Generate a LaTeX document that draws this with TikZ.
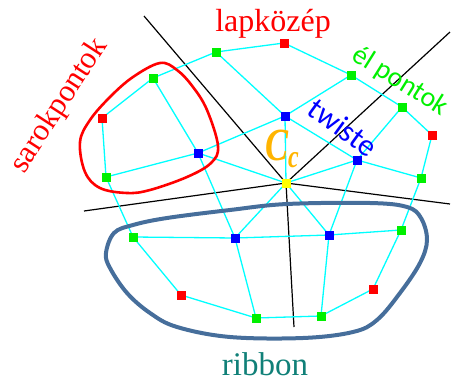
\documentclass[tikz,border=0pt]{standalone}
\usepackage{fontspec}
\setmainfont{Liberation Serif}
\newfontfamily\carlito{Carlito}
\definecolor{myorange}{RGB}{255,180,0}
\definecolor{myteal}{RGB}{16,128,120}
\definecolor{ribboncol}{RGB}{70,110,155}
\definecolor{mygreen}{RGB}{0,240,0}
\definecolor{mycyan}{RGB}{0,255,255}
\definecolor{myyellow}{RGB}{255,255,0}
\definecolor{myred}{RGB}{255,0,0}
\definecolor{myblue}{RGB}{0,0,255}
\pgfdeclarelayer{bg}
\pgfsetlayers{bg,main}
\begin{document}
\begin{tikzpicture}[x=1pt,y=-1pt,
  sq/.style={rectangle, minimum size=9pt, inner sep=0pt},
  cornerpt/.style={sq, fill=myred},
  edgept/.style={sq, fill=mygreen},
  twistpt/.style={sq, fill=myblue},
  centerpt/.style={sq, fill=myyellow},
  mesh/.style={mycyan, line width=1.3pt},
  sector/.style={black, line width=1.2pt},
  lbl/.style={inner sep=0pt, anchor=base}]
\useasboundingbox (0,0) rectangle (451,383);
% points
\node[cornerpt] (R1) at (102,118) {};
\node[cornerpt] (R2) at (284,43) {};
\node[cornerpt] (R3) at (432,135) {};
\node[cornerpt] (R4) at (373,289) {};
\node[cornerpt] (R5) at (181,295) {};
\node[edgept] (G1) at (153,78) {};
\node[edgept] (G2) at (216,52) {};
\node[edgept] (G3) at (351,75) {};
\node[edgept] (G4) at (402,107) {};
\node[edgept] (G5) at (421,178) {};
\node[edgept] (G6) at (401,230) {};
\node[edgept] (G7) at (321,316) {};
\node[edgept] (G8) at (256,318) {};
\node[edgept] (G9) at (133,237) {};
\node[edgept] (G10) at (106,177) {};
\node[twistpt] (B1) at (198,153) {};
\node[twistpt] (B2) at (285,116) {};
\node[twistpt] (B3) at (357,160) {};
\node[twistpt] (B4) at (329,235) {};
\node[twistpt] (B5) at (235,238) {};
\node[centerpt] (C) at (286,183) {};
\coordinate (K1) at (144,16);
\coordinate (K2) at (450,32);
\coordinate (K3) at (84,211);
\coordinate (K4) at (450,204);
\coordinate (K5) at (294,327);
\begin{pgfonlayer}{bg}
% sector lines
\draw[sector] (C.center) -- (K1);
\draw[sector] (C.center) -- (K2);
\draw[sector] (C.center) -- (K3);
\draw[sector] (C.center) -- (K4);
\draw[sector] (C.center) -- (K5);
% mesh
\draw[mesh] (R1.center) -- (G1.center) -- (G2.center) -- (R2.center) -- (G3.center) -- (G4.center) -- (R3.center) -- (G5.center) -- (G6.center) -- (R4.center) -- (G7.center) -- (G8.center) -- (R5.center) -- (G9.center) -- (G10.center) -- (R1.center);
\draw[mesh] (B1.center) -- (B2.center) -- (B3.center) -- (B4.center) -- (B5.center) -- (B1.center);
\draw[mesh] (G10.center) -- (B1.center) -- (G1.center);
\draw[mesh] (G2.center) -- (B2.center) -- (G3.center);
\draw[mesh] (G4.center) -- (B3.center) -- (G5.center);
\draw[mesh] (G6.center) -- (B4.center) -- (G7.center);
\draw[mesh] (G8.center) -- (B5.center) -- (G9.center);
\foreach \b in {B1,B2,B3,B4,B5} \draw[mesh] (C.center) -- (\b.center);
\end{pgfonlayer}
% groups
\draw[myred, line width=2.6pt] plot[smooth cycle, tension=0.6] coordinates {(160,63) (177,70) (193,87) (207,110) (218,146) (211,163) (187,177) (150,190) (127,193) (100,188) (85,172) (80,142) (90,120) (110,97) (133,77)};
\draw[ribboncol, line width=4pt] plot[smooth cycle, tension=0.6] coordinates {(106,253) (114,233) (133,225) (167,218) (230,210) (287,204) (370,203) (407,207) (421,218) (427,240) (420,263) (400,293) (377,320) (353,332) (303,338) (230,337) (177,327) (150,313) (127,293) (110,268)};
% labels
\node[lbl, myred, font=\fontsize{32}{32}\selectfont] (tlap) at (273,31) {lapközép};
\node[lbl, mygreen, font=\carlito\fontsize{28}{28}\selectfont, rotate=-32] (tel) at (396,88) {él pontok};
\node[lbl, myblue, font=\carlito\fontsize{31}{31}\selectfont, rotate=-36] (ttw) at (337,136) {twiste};
\node[lbl, myred, font=\fontsize{31}{31}\selectfont, rotate=57] (tsar) at (66,110) {sarokpontok};
\node[lbl, myteal, font=\fontsize{33}{33}\selectfont] (trib) at (265,375) {ribbon};
\node[lbl, anchor=base west, myorange, font=\fontsize{46}{46}\selectfont\bfseries\itshape, xscale=0.75] (tcc) at (265,160) {C\raisebox{-7pt}{\fontsize{32}{32}\selectfont c}};
\end{tikzpicture}
\end{document}
